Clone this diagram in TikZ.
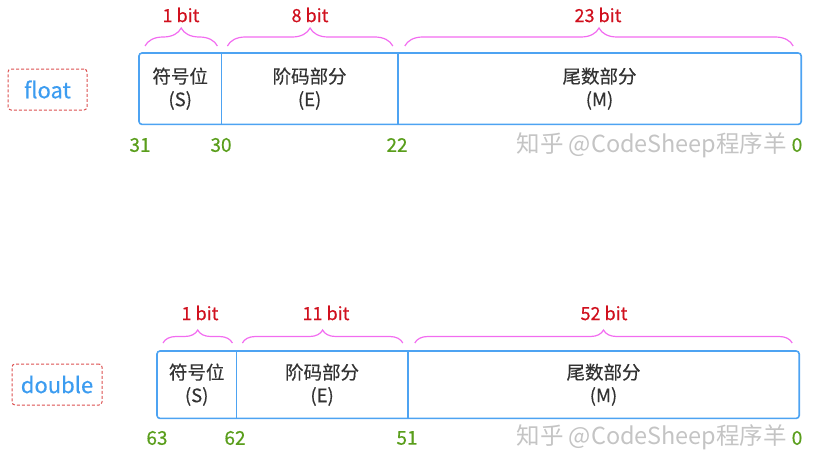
\documentclass[tikz,border=0pt]{standalone}
\usepackage{fontspec}
\setmainfont{Noto Sans CJK SC}
\newfontfamily\medfont{Noto Sans CJK SC}[FakeBold=0.45]
\usetikzlibrary{decorations.pathreplacing,calc}

\definecolor{boxblue}{HTML}{4DA3F2}
\definecolor{fieldgray}{HTML}{333333}
\definecolor{bracepink}{HTML}{F26CF0}
\definecolor{bitred}{HTML}{D0101E}
\definecolor{posgreen}{HTML}{5A9E1C}
\definecolor{kindred}{HTML}{DC5050}
\definecolor{kindblue}{HTML}{3C9CF0}
\definecolor{wmgray}{HTML}{C4C4C4}

\tikzset{
  field/.style={inner sep=0pt, anchor=north west, text=fieldgray, align=center,
    font=\fontsize{18.5}{23}\medfont},
  boxline/.style={draw=boxblue, line width=1.6pt},
  bitbrace/.style={decorate, decoration={brace, amplitude=#1}, draw=bracepink, line width=1.2pt},
  bits/.style={text=bitred, font=\fontsize{18}{20}\medfont},
  bitpos/.style={text=posgreen, font=\fontsize{19}{20}\medfont},
  kind/.style={draw=kindred, dash pattern=on 3pt off 2pt, line width=1pt, rounded corners=3pt,
    inner sep=0pt, minimum height=41, text=kindblue, font=\fontsize{22}{24}\medfont},
  wmark/.style={text=wmgray, anchor=west, font=\fontsize{23.5}{26}\selectfont}
}

\begin{document}
\begin{tikzpicture}[x=1pt,y=-1pt]
  \useasboundingbox (0,0) rectangle (818,460);

  % float
  \node[kind, minimum width=79] (kf) at (47.5,89.5) {float};
  \node[field, minimum width=82, minimum height=71] (fs) at (139,53) {符号位\\(S)};
  \node[field, minimum width=176, minimum height=71] (fe) at (fs.north east) {阶码部分\\(E)};
  \node[field, minimum width=403, minimum height=71] (fm) at (fe.north east) {尾数部分\\(M)};
  \draw[boxline, rounded corners=3pt] (fs.north west) rectangle (fm.south east);
  \draw[boxline] (fs.north east) -- (fs.south east);
  \draw[boxline] (fe.north east) -- (fe.south east);

  \draw[bitbrace=18pt] ($(fs.north west)+(6,-7)$) -- ($(fs.north east)+(-4,-7)$);
  \draw[bitbrace=18pt] ($(fe.north west)+(6,-7)$) -- ($(fe.north east)+(-5,-7)$);
  \draw[bitbrace=18pt] ($(fm.north west)+(7,-7)$) -- ($(fm.north east)+(-8,-7)$);
  \node[bits] (fbs) at (181,15) {1 bit};
  \node[bits] (fbe) at (310,15) {8 bit};
  \node[bits] (fbm) at (598,15) {23 bit};

  \node[wmark] (fw) at (513,145) {知乎 @CodeSheep程序羊};
  \node[bitpos] (f31) at (140,145) {31};
  \node[bitpos] (f30) at (221,145) {30};
  \node[bitpos] (f22) at (397,145) {22};
  \node[bitpos] (f0) at (797,145) {0};

  % double
  \node[kind, minimum width=90] (kd) at (57,384.5) {double};
  \node[field, minimum width=79, minimum height=67] (ds) at (157,351) {符号位\\(S)};
  \node[field, minimum width=171, minimum height=67] (de) at (ds.north east) {阶码部分\\(E)};
  \node[field, minimum width=391, minimum height=67] (dm) at (de.north east) {尾数部分\\(M)};
  \draw[boxline, rounded corners=3pt] (ds.north west) rectangle (dm.south east);
  \draw[boxline] (ds.north east) -- (ds.south east);
  \draw[boxline] (de.north east) -- (de.south east);

  \draw[bitbrace=13pt] ($(ds.north west)+(6,-8)$) -- ($(ds.north east)+(-4,-8)$);
  \draw[bitbrace=13pt] ($(de.north west)+(6,-8)$) -- ($(de.north east)+(-5,-8)$);
  \draw[bitbrace=13pt] ($(dm.north west)+(7,-8)$) -- ($(dm.north east)+(-7,-8)$);
  \node[bits] (dbs) at (200,313) {1 bit};
  \node[bits] (dbe) at (326,313) {11 bit};
  \node[bits] (dbm) at (604,313) {52 bit};

  \node[wmark] (dw) at (513,437) {知乎 @CodeSheep程序羊};
  \node[bitpos] (d63) at (157,438) {63};
  \node[bitpos] (d62) at (235,438) {62};
  \node[bitpos] (d51) at (407,438) {51};
  \node[bitpos] (d0) at (797,438) {0};
\end{tikzpicture}
\end{document}
